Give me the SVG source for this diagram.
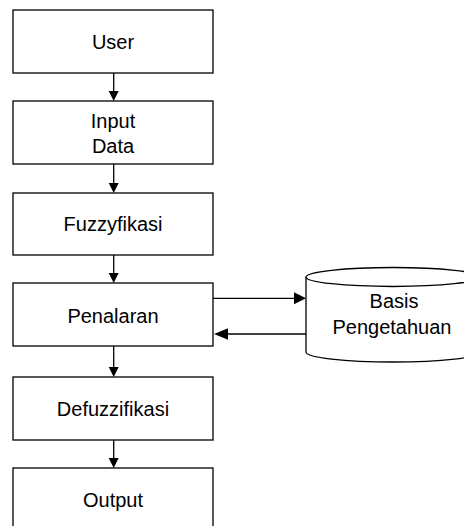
<svg xmlns="http://www.w3.org/2000/svg" width="464" height="526" viewBox="0 0 464 526">
<style>
.box{fill:#fff;stroke:#000;stroke-width:1.3}
.t{font-family:"Liberation Sans",Arial,sans-serif;font-size:20px;fill:#000;text-anchor:middle}
.c{stroke:#000;stroke-width:1.3;fill:none}
.h{fill:#000;stroke:none}
</style>
<rect width="464" height="526" fill="#fff"/>
<g id="user"><rect class="box" x="13" y="10" width="200" height="63"/><text class="t" x="113" y="49">User</text></g>
<g id="input"><rect class="box" x="13" y="101" width="200" height="63"/><text class="t" x="113" y="127.5">Input</text><text class="t" x="113" y="153">Data</text></g>
<g id="fuzzy"><rect class="box" x="13" y="193" width="200" height="62"/><text class="t" x="113" y="231">Fuzzyfikasi</text></g>
<g id="penalaran"><rect class="box" x="13" y="283" width="200" height="63"/><text class="t" x="113" y="323">Penalaran</text></g>
<g id="defuzz"><rect class="box" x="13" y="377" width="200" height="63"/><text class="t" x="113" y="416">Defuzzifikasi</text></g>
<g id="output"><rect class="box" x="13" y="468" width="200" height="70"/><text class="t" x="113" y="506.5">Output</text></g>
<g id="basis">
<path class="box" d="M306,277 L306,352 A87,10 0 0 0 480,352 L480,277"/>
<ellipse class="box" cx="393" cy="277" rx="87" ry="9.5"/>
<text class="t" x="394" y="308">Basis</text><text class="t" x="392" y="333.5">Pengetahuan</text>
</g>
<g id="connectors">
<line class="c" x1="113.7" y1="73" x2="113.7" y2="92"/><path class="h" d="M108.7,91 L118.7,91 L113.7,101 Z"/>
<line class="c" x1="113.7" y1="164" x2="113.7" y2="184"/><path class="h" d="M108.7,183 L118.7,183 L113.7,193 Z"/>
<line class="c" x1="113.7" y1="255" x2="113.7" y2="274"/><path class="h" d="M108.7,273 L118.7,273 L113.7,283 Z"/>
<line class="c" x1="113.7" y1="346" x2="113.7" y2="368"/><path class="h" d="M108.7,367 L118.7,367 L113.7,377 Z"/>
<line class="c" x1="113.7" y1="440" x2="113.7" y2="459"/><path class="h" d="M108.7,458 L118.7,458 L113.7,468 Z"/>
<line class="c" x1="213" y1="298.3" x2="296" y2="298.3"/><path class="h" d="M294,292.3 L306,298.3 L294,304.3 Z"/>
<line class="c" x1="306" y1="334" x2="225" y2="334"/><path class="h" d="M228,328.3 L214,334 L228,339.7 Z"/>
</g>
</svg>
